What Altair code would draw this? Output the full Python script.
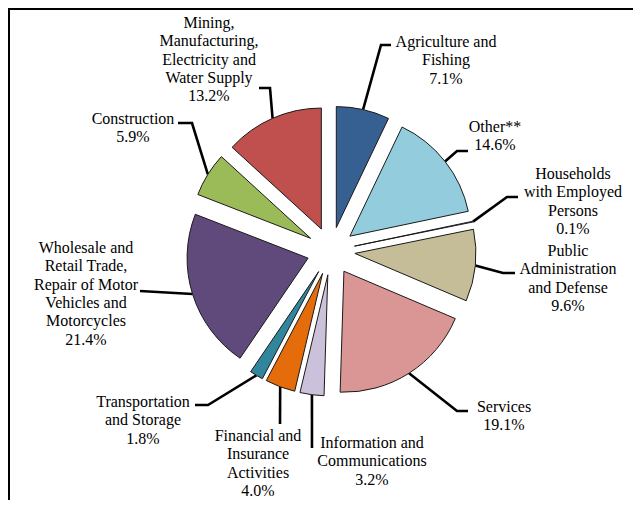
import math
import altair as alt
import pandas as pd

# ---------------- data ----------------
title_text = "Prices, 2018"
categories = [
    "Agriculture and Fishing", "Other**", "Households with Employed Persons",
    "Public Administration and Defense", "Services", "Information and Communications",
    "Financial and Insurance Activities", "Transportation and Storage",
    "Wholesale and Retail Trade, Repair of Motor Vehicles and Motorcycles",
    "Construction", "Mining, Manufacturing, Electricity and Water Supply",
]
values = [7.1, 14.6, 0.1, 9.6, 19.1, 3.2, 4.0, 1.8, 21.4, 5.9, 13.2]
label_lines = [
    ["Agriculture and", "Fishing"],
    ["Other**"],
    ["Households", "with Employed", "Persons"],
    ["Public", "Administration", "and Defense"],
    ["Services"],
    ["Information and", "Communications"],
    ["Financial and", "Insurance", "Activities"],
    ["Transportation", "and Storage"],
    ["Wholesale and", "Retail Trade,", "Repair of Motor", "Vehicles and", "Motorcycles"],
    ["Construction"],
    ["Mining,", "Manufacturing,", "Electricity and", "Water Supply"],
]
colors = ["#376092", "#93CDDD", "#FFFFFF", "#C4BD97", "#D99694", "#CCC1DA",
          "#E46C0A", "#31859C", "#604A7B", "#9BBB59", "#C0504D"]

# ---------------- layout ----------------
W, H = 625, 492
CX, CY = 323, 243        # pie centre
R = 121                  # slice radius
EXPLODE = 24             # slice offset from centre
label_anchor = [(438, 39), (487, 124), (565, 171), (560, 248), (496, 404), (364, 440),
                (250, 433), (135, 399), (78, 245), (125, 116), (201, 20)]
leader_tail = [
    [(373, 37), (383, 37)],
    [(449, 143), (460, 143)],
    [(499, 189), (510, 189)],
    [(495, 265), (507, 265)],
    [(449, 403), (460, 403)],
    [(304, 440)],
    [(272, 416)],
    [(200, 397), (187, 397)],
    [(132, 283)],
    [(184, 115), (170, 115)],
    [(262, 80), (251, 80)],
]

# ---------------- build tables ----------------
total = sum(values)
rows, lab_rows, line_rows = [], [], []
cum = 0.0
for i, (c, v) in enumerate(zip(categories, values)):
    p0, p1 = cum, cum + v
    cum = p1
    mid = (p0 + p1) / 2 / total * 2 * math.pi
    ox = CX + EXPLODE * math.sin(mid)
    oy = CY - EXPLODE * math.cos(mid)
    rows.append({"category": c, "value": v, "p0": p0, "p1": p1, "ox": ox, "oy": oy})
    lab_rows.append({"category": c, "idx": i, "lx": label_anchor[i][0], "ly": label_anchor[i][1],
                     "label": "\n".join(label_lines[i] + [f"{v:.1f}%"])})
    sx = CX + (EXPLODE + R) * math.sin(mid)
    sy = CY - (EXPLODE + R) * math.cos(mid)
    pts = [(sx, sy)] + leader_tail[i]
    for k, (px, py) in enumerate(pts):
        line_rows.append({"category": c, "pt": k, "px": px, "py": py})

pie_df = pd.DataFrame(rows)
lab_df = pd.DataFrame(lab_rows)
line_df = pd.DataFrame(line_rows)

arcs = alt.Chart(pie_df).mark_arc(outerRadius=R, stroke="#1a1a1a", strokeWidth=1).encode(
    theta=alt.Theta("p0:Q", scale=alt.Scale(domain=[0, total], range=[0, 2 * math.pi])),
    theta2="p1:Q",
    x=alt.X("ox:Q", scale=None, axis=None),
    y=alt.Y("oy:Q", scale=None, axis=None),
    color=alt.Color("category:N", scale=alt.Scale(domain=categories, range=colors), legend=None),
)

leaders = alt.Chart(line_df).mark_line(color="black", strokeWidth=2.6, strokeJoin="miter").encode(
    x=alt.X("px:Q", scale=None, axis=None),
    y=alt.Y("py:Q", scale=None, axis=None),
    detail="category:N",
    order="pt:Q",
)


def text_layer(font, lo, hi):
    return alt.Chart(lab_df[(lab_df.idx >= lo) & (lab_df.idx < hi)]).mark_text(
        align="center", baseline="alphabetic", font=font, fontSize=16,
        lineHeight=18.3, lineBreak="\n", color="black",
    ).encode(
        x=alt.X("lx:Q", scale=None, axis=None),
        y=alt.Y("ly:Q", scale=None, axis=None),
        text="label:N",
    )


labels = [text_layer("Liberation Serif", 0, 3), text_layer("serif", 3, 6),
          text_layer("Liberation Serif", 6, 8), text_layer("serif", 8, 11)]

# chart title sits above the frame, cropped off the top of the picture
title_layer = alt.Chart(pd.DataFrame({"t": [title_text]})).mark_text(
    align="center", baseline="alphabetic", font="DejaVu Serif", fontSize=16, color="black",
).encode(x=alt.value(319), y=alt.value(-6), text="t:N")
pad_layer = alt.Chart(pd.DataFrame({"t": [" "]})).mark_text(
    font="Liberation Mono", fontSize=16, opacity=0,
).encode(x=alt.value(600), y=alt.value(480), text="t:N")

frame_df = pd.DataFrame({"k": [0]})
top_border = alt.Chart(frame_df).mark_rule(color="black", strokeWidth=2.4).encode(
    x=alt.value(0), x2=alt.value(W + 20), y=alt.value(0.8), y2=alt.value(0.8))
left_border = alt.Chart(frame_df).mark_rule(color="black", strokeWidth=2.4).encode(
    x=alt.value(0.8), x2=alt.value(0.8), y=alt.value(0), y2=alt.value(H + 20))

chart = alt.layer(leaders, arcs, *labels, title_layer, pad_layer, top_border, left_border).properties(
    width=W, height=H, padding=0, autosize="none", background="white",
).configure_view(stroke=None)

chart.save("out.html", embed_options={"renderer": "svg", "actions": False})
